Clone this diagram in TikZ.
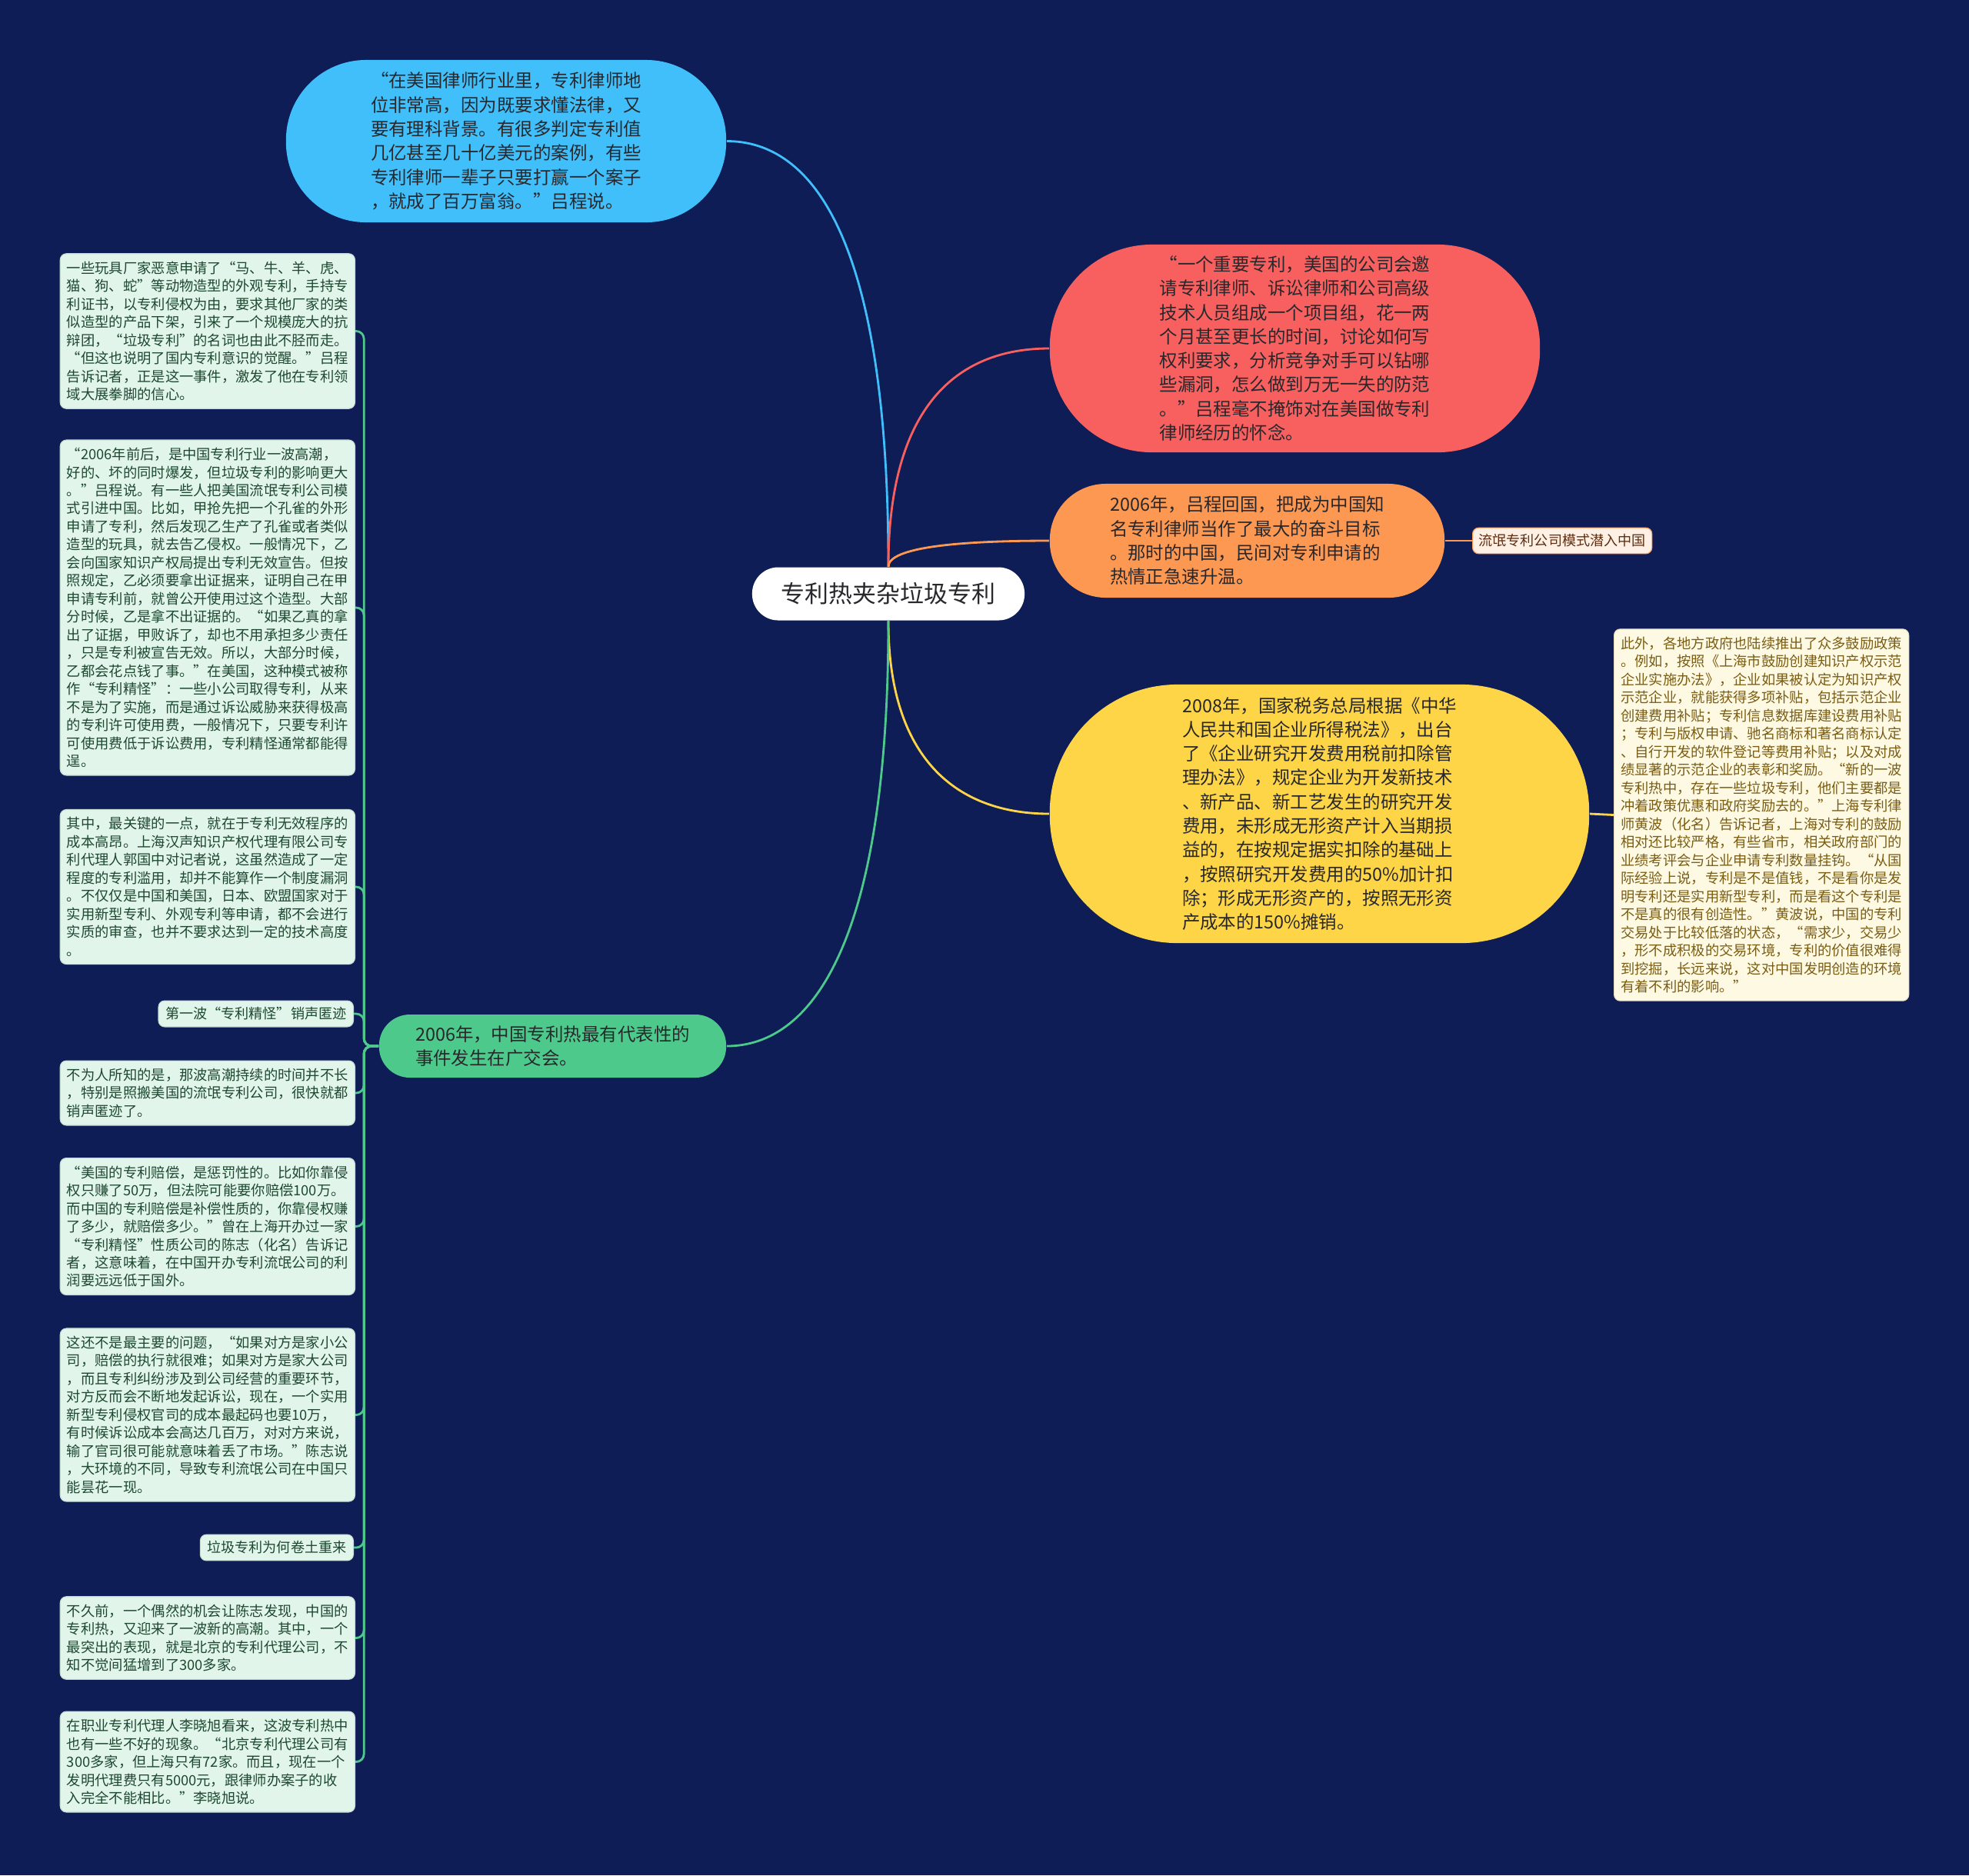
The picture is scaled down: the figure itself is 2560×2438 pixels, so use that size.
\documentclass[tikz,border=0pt]{standalone}
\usepackage{fontspec}
\setmainfont{Noto Sans CJK SC}
\usetikzlibrary{positioning}
\definecolor{night}{RGB}{14,29,86}
\definecolor{skyblue}{RGB}{64,191,250}
\definecolor{coral}{RGB}{247,96,95}
\definecolor{apricot}{RGB}{253,152,82}
\definecolor{sun}{RGB}{253,213,71}
\definecolor{jade}{RGB}{76,201,139}
\definecolor{mint}{RGB}{225,245,235}
\definecolor{pine}{RGB}{30,72,48}
\definecolor{cream}{RGB}{254,249,226}
\definecolor{ochre}{RGB}{122,93,20}
\definecolor{peach}{RGB}{254,240,229}
\definecolor{rust}{RGB}{95,45,15}
\definecolor{ink}{RGB}{40,40,44}

\begin{document}
\begin{tikzpicture}[
    x=0.01cm,y=-0.01cm,
    bubble/.style={inner sep=0pt,align=left,font=\fontsize{6.67}{8.9}\selectfont},
    note/.style={fill=mint,draw=mint!85!pine,line width=0.3pt,rounded corners=0.08cm,text=pine,
      minimum width=3.83cm,align=left,inner xsep=0.085cm,inner ysep=0.1cm,
      font=\fontsize{5.2}{6.68}\selectfont},
    tag/.style={fill=mint,draw=mint!85!pine,line width=0.3pt,rounded corners=0.08cm,text=pine,
      inner xsep=0.09cm,inner ysep=0.085cm,font=\fontsize{5.15}{6.2}\selectfont},
    link/.style={line width=0.8pt},
    branch/.style={line width=0.8pt,draw=jade,rounded corners=0.1cm}
  ]
  \fill[night] (0,0) rectangle (2560,2438);
  \useasboundingbox (0,0) rectangle (2560,2438);

  \node[fill=white,text=ink,minimum width=3.54cm,minimum height=0.69cm,rounded corners=0.34cm,
    inner sep=0pt,font=\fontsize{8.8}{10}\selectfont] (root) at (1155,772) {专利热夹杂垃圾专利};

  \node[bubble,fill=skyblue,text=ink,minimum width=5.72cm,minimum height=2.11cm,rounded corners=1.04cm]
    (lawyer) at (658,183.5) {“在美国律师行业里，专利律师地\\
    位非常高，因为既要求懂法律，又\\
    要有理科背景。有很多判定专利值\\
    几亿甚至几十亿美元的案例，有些\\
    专利律师一辈子只要打赢一个案子\\
    ，就成了百万富翁。”吕程说。};

  \node[bubble,fill=coral,text=ink,minimum width=6.37cm,minimum height=2.70cm,rounded corners=1.33cm]
    (team) at (1683.5,453) {“一个重要专利，美国的公司会邀\\
    请专利律师、诉讼律师和公司高级\\
    技术人员组成一个项目组，花一两\\
    个月甚至更长的时间，讨论如何写\\
    权利要求，分析竞争对手可以钻哪\\
    些漏洞，怎么做到万无一失的防范\\
    。”吕程毫不掩饰对在美国做专利\\
    律师经历的怀念。};

  \node[bubble,fill=apricot,text=ink,minimum width=5.13cm,minimum height=1.48cm,rounded corners=0.73cm]
    (return) at (1621.5,703) {2006年，吕程回国，把成为中国知\\
    名专利律师当作了最大的奋斗目标\\
    。那时的中国，民间对专利申请的\\
    热情正急速升温。};

  \node[fill=peach,draw=apricot,line width=0.3pt,rounded corners=0.08cm,text=rust,
    inner xsep=0.08cm,inner ysep=0.085cm,font=\fontsize{5.15}{6.2}\selectfont,anchor=west]
    (model) at (1914,703) {流氓专利公司模式潜入中国};

  \node[bubble,fill=sun,text=ink,minimum width=7.01cm,minimum height=3.36cm,rounded corners=1.66cm]
    (tax) at (1715.5,1058) {2008年，国家税务总局根据《中华\\
    人民共和国企业所得税法》，出台\\
    了《企业研究开发费用税前扣除管\\
    理办法》，规定企业为开发新技术\\
    、新产品、新工艺发生的研究开发\\
    费用，未形成无形资产计入当期损\\
    益的，在按规定据实扣除的基础上\\
    ，按照研究开发费用的50\%加计扣\\
    除；形成无形资产的，按照无形资\\
    产成本的150\%摊销。};

  \node[note,fill=cream,draw=cream!80!ochre,text=ochre,anchor=west] (policy) at (2098,1059.5)
    {此外，各地方政府也陆续推出了众多鼓励政策\\
    。例如，按照《上海市鼓励创建知识产权示范\\
    企业实施办法》，企业如果被认定为知识产权\\
    示范企业，就能获得多项补贴，包括示范企业\\
    创建费用补贴；专利信息数据库建设费用补贴\\
    ；专利与版权申请、驰名商标和著名商标认定\\
    、自行开发的软件登记等费用补贴；以及对成\\
    绩显著的示范企业的表彰和奖励。“新的一波\\
    专利热中，存在一些垃圾专利，他们主要都是\\
    冲着政策优惠和政府奖励去的。”上海专利律\\
    师黄波（化名）告诉记者，上海对专利的鼓励\\
    相对还比较严格，有些省市，相关政府部门的\\
    业绩考评会与企业申请专利数量挂钩。“从国\\
    际经验上说，专利是不是值钱，不是看你是发\\
    明专利还是实用新型专利，而是看这个专利是\\
    不是真的很有创造性。”黄波说，中国的专利\\
    交易处于比较低落的状态，“需求少，交易少\\
    ，形不成积极的交易环境，专利的价值很难得\\
    到挖掘，长远来说，这对中国发明创造的环境\\
    有着不利的影响。”};

  \node[bubble,fill=jade,text=ink,minimum width=4.51cm,minimum height=0.82cm,rounded corners=0.40cm]
    (fair) at (718.5,1360) {2006年，中国专利热最有代表性的\\
    事件发生在广交会。};

  \node[note,anchor=east] (toys) at (462,430.5)
    {一些玩具厂家恶意申请了“马、牛、羊、虎、\\
    猫、狗、蛇”等动物造型的外观专利，手持专\\
    利证书，以专利侵权为由，要求其他厂家的类\\
    似造型的产品下架，引来了一个规模庞大的抗\\
    辩团，“垃圾专利”的名词也由此不胫而走。\\
    “但这也说明了国内专利意识的觉醒。”吕程\\
    告诉记者，正是这一事件，激发了他在专利领\\
    域大展拳脚的信心。};

  \node[note,anchor=east] (peacock) at (462,790)
    {“2006年前后，是中国专利行业一波高潮，\\
    好的、坏的同时爆发，但垃圾专利的影响更大\\
    。”吕程说。有一些人把美国流氓专利公司模\\
    式引进中国。比如，甲抢先把一个孔雀的外形\\
    申请了专利，然后发现乙生产了孔雀或者类似\\
    造型的玩具，就去告乙侵权。一般情况下，乙\\
    会向国家知识产权局提出专利无效宣告。但按\\
    照规定，乙必须要拿出证据来，证明自己在甲\\
    申请专利前，就曾公开使用过这个造型。大部\\
    分时候，乙是拿不出证据的。“如果乙真的拿\\
    出了证据，甲败诉了，却也不用承担多少责任\\
    ，只是专利被宣告无效。所以，大部分时候，\\
    乙都会花点钱了事。”在美国，这种模式被称\\
    作“专利精怪”：一些小公司取得专利，从来\\
    不是为了实施，而是通过诉讼威胁来获得极高\\
    的专利许可使用费，一般情况下，只要专利许\\
    可使用费低于诉讼费用，专利精怪通常都能得\\
    逞。};

  \node[note,anchor=east] (cost) at (462,1153)
    {其中，最关键的一点，就在于专利无效程序的\\
    成本高昂。上海汉声知识产权代理有限公司专\\
    利代理人郭国中对记者说，这虽然造成了一定\\
    程度的专利滥用，却并不能算作一个制度漏洞\\
    。不仅仅是中国和美国，日本、欧盟国家对于\\
    实用新型专利、外观专利等申请，都不会进行\\
    实质的审查，也并不要求达到一定的技术高度\\
    。};

  \node[tag,anchor=east] (wave) at (460,1318) {第一波“专利精怪”销声匿迹};

  \node[note,anchor=east] (fade) at (462,1421)
    {不为人所知的是，那波高潮持续的时间并不长\\
    ，特别是照搬美国的流氓专利公司，很快就都\\
    销声匿迹了。};

  \node[note,anchor=east] (damages) at (462,1594.5)
    {“美国的专利赔偿，是惩罚性的。比如你靠侵\\
    权只赚了50万，但法院可能要你赔偿100万。\\
    而中国的专利赔偿是补偿性质的，你靠侵权赚\\
    了多少，就赔偿多少。”曾在上海开办过一家\\
    “专利精怪”性质公司的陈志（化名）告诉记\\
    者，这意味着，在中国开办专利流氓公司的利\\
    润要远远低于国外。};

  \node[note,anchor=east] (lawsuit) at (462,1839.5)
    {这还不是最主要的问题，“如果对方是家小公\\
    司，赔偿的执行就很难；如果对方是家大公司\\
    ，而且专利纠纷涉及到公司经营的重要环节，\\
    对方反而会不断地发起诉讼，现在，一个实用\\
    新型专利侵权官司的成本最起码也要10万，\\
    有时候诉讼成本会高达几百万，对对方来说，\\
    输了官司很可能就意味着丢了市场。”陈志说\\
    ，大环境的不同，导致专利流氓公司在中国只\\
    能昙花一现。};

  \node[tag,anchor=east] (comeback) at (460,2012) {垃圾专利为何卷土重来};

  \node[note,anchor=east] (beijing) at (462,2129.5)
    {不久前，一个偶然的机会让陈志发现，中国的\\
    专利热，又迎来了一波新的高潮。其中，一个\\
    最突出的表现，就是北京的专利代理公司，不\\
    知不觉间猛增到了300多家。};

  \node[note,anchor=east] (agent) at (462,2290.5)
    {在职业专利代理人李晓旭看来，这波专利热中\\
    也有一些不好的现象。“北京专利代理公司有\\
    300多家，但上海只有72家。而且，现在一个\\
    发明代理费只有5000元，跟律师办案子的收\\
    入完全不能相比。”李晓旭说。};

  \draw[link,skyblue] (root.north) .. controls +(0,-430) and +(110,0) .. (lawyer.east);
  \draw[link,coral] (root.north) .. controls +(0,-220) and +(-110,0) .. (team.west);
  \draw[link,apricot] (root.north) .. controls +(0,-25) and +(-120,0) .. (return.west);
  \draw[link,sun] (root.south) .. controls +(0,190) and +(-110,0) .. (tax.west);
  \draw[link,jade] (root.south) .. controls +(0,420) and +(110,0) .. (fair.east);
  \draw[link,apricot] (return.east) -- (model.west);
  \draw[link,sun] (tax.east) -- (policy.west);

  \foreach \kid in {toys,peacock,cost,wave,fade,damages,lawsuit,comeback,beijing,agent}
    \draw[branch] (fair.west) -- ++(-19,0) |- (\kid.east);
\end{tikzpicture}
\end{document}
